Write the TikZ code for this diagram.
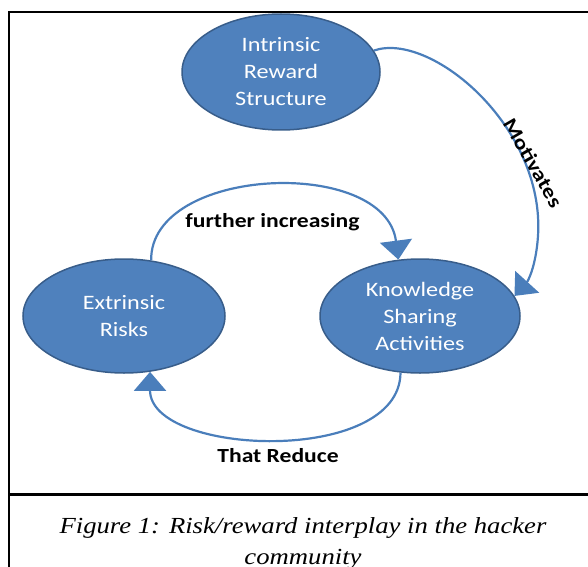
\documentclass[tikz,border=0pt]{standalone}
\usepackage{graphicx}
\usepackage{fontspec}
\setmainfont{Carlito}
\newfontfamily\capfont{Liberation Serif}
\usetikzlibrary{shapes.geometric,arrows.meta}
\definecolor{ellfill}{RGB}{79,129,189}
\definecolor{elldraw}{RGB}{56,93,138}
\definecolor{conn}{RGB}{74,126,187}
\newcommand\sx[1]{\scalebox{1.18}[1]{#1}}
\newcommand\capx[1]{\scalebox{1.16}[1]{#1}}
\begin{document}
\begin{tikzpicture}[x=1pt,y=1pt,
  bubble/.style={ellipse, fill=ellfill, draw=elldraw, line width=1.5pt, text=white,
    align=center, font=\fontsize{20.5}{27}\selectfont, inner sep=0pt},
  link/.style={conn, line width=2.2pt, -{Triangle[width=32pt,length=19pt]}},
  lbl/.style={font=\fontsize{20}{24}\selectfont\bfseries, text=black, inner sep=0pt},
  capt/.style={font=\fontsize{23}{27}\selectfont\capfont\itshape, inner sep=0pt},
  frame/.style={line width=2.4pt, black}]
\useasboundingbox (0,0) rectangle (588,566);
% frame
\draw[frame] (592,554) -- (8.7,554) -- (8.7,-4);
\draw[frame] (8.7,71.5) -- (592,71.5);
% nodes
\node[bubble, minimum width=198pt, minimum height=116pt] (intr) at (281,494)
  {\sx{Intrinsic}\\\sx{Reward}\\\sx{Structure}};
\node[bubble, minimum width=202pt, minimum height=114pt] (ext) at (124,250)
  {\sx{Extrinsic}\\\sx{Risks}};
\node[bubble, minimum width=200pt, minimum height=114pt] (know) at (420,250)
  {\sx{Knowledge}\\\sx{Sharing}\\\sx{Activities}};
% connectors
\draw[link] (intr.13) .. controls (430,535) and (545,440) .. (538,330)
  .. controls (536,300) and (528,285) .. (know.12);
\draw[link] (ext.64) .. controls (150,400) and (385,410) .. (know.111);
\draw[link] (know.-109) .. controls (400,100) and (150,110) .. (ext.-65);
% labels
\node[lbl, rotate=-60] (mot) at (533,403) {\sx{Motivates}};
\node[lbl, anchor=base] (fur) at (272.5,339) {\sx{further increasing}};
\node[lbl, anchor=base] (red) at (278,104) {\sx{That Reduce}};
% caption
\node[capt, anchor=base] (cap1) at (303,33) {\capx{Figure 1: Risk/reward interplay in the hacker}};
\node[capt, anchor=base] (cap2) at (303,2) {\capx{community}};
\end{tikzpicture}
\end{document}
